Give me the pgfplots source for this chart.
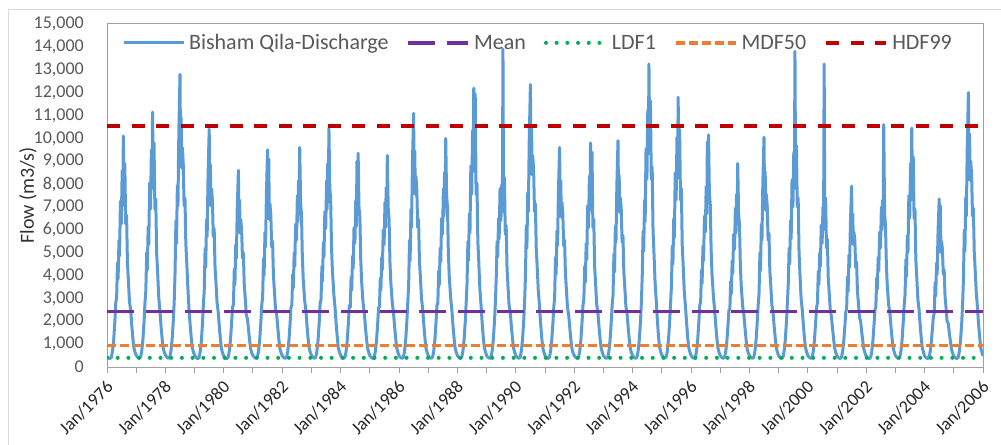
\documentclass[border=0pt]{standalone}
\usepackage{pgfplots}
\pgfplotsset{compat=1.18}
\usepackage{fontspec}
\setmainfont{Carlito}
\definecolor{cBlue}{HTML}{5B9BD5}
\definecolor{cPurple}{HTML}{7030A0}
\definecolor{cGreen}{HTML}{00B050}
\definecolor{cOrange}{HTML}{ED7D31}
\definecolor{cRed}{HTML}{C00000}
\definecolor{cTick}{HTML}{595959}
\definecolor{cAxis}{HTML}{A0A0A0}
\definecolor{cFrame}{HTML}{D9D9D9}
\begin{document}
\begin{tikzpicture}
\useasboundingbox (0bp,0bp) rectangle (1001bp,445bp);
\fill[white] (0bp,0bp) rectangle (1001bp,445bp);
\draw[cFrame, line width=1bp] (8bp,-20bp) -- (8bp,435bp) -- (1020bp,435bp);
\begin{axis}[
  at={(107bp,78bp)}, anchor=south west,
  width=876bp, height=343bp, scale only axis,
  xmin=1976, xmax=2006, ymin=0, ymax=15000,
  axis line style={cAxis, line width=1bp},
  xtick={1976,1978,...,2006},
  minor xtick={1977,1979,...,2005},
  xticklabels={Jan/1976,Jan/1978,Jan/1980,Jan/1982,Jan/1984,Jan/1986,Jan/1988,Jan/1990,Jan/1992,Jan/1994,Jan/1996,Jan/1998,Jan/2000,Jan/2002,Jan/2004,Jan/2006},
  x tick style={cAxis, line width=1bp},
  minor x tick style={cAxis, line width=1bp},
  tick align=outside, major tick length=6bp, minor tick length=6bp,
  xtick pos=bottom, ytick pos=left,
  xticklabel style={font=\fontsize{18bp}{20bp}\selectfont, text=black!85, inner sep=0pt, xshift=3bp, yshift=-11bp, rotate=45, anchor=east},
  ytick={0,1000,...,15000},
  y tick style={draw=none},
  yticklabel style={font=\fontsize{18bp}{20bp}\selectfont, text=cTick, inner sep=0pt, anchor=east, xshift=-17bp},
  scaled y ticks=false,
  /pgf/number format/.cd, 1000 sep={,}, assume math mode=true, /pgfplots/.cd,
  ylabel={Flow (m3/s)},
  ylabel style={at={(axis description cs:-0.0902,0.5)}, anchor=center, font=\fontsize{20bp}{22bp}\selectfont, text=black!80},
  legend columns=5,
  legend style={at={(axis description cs:0.017,0.945)}, anchor=west, draw=none, fill=none, inner sep=0pt,
    font=\fontsize{22bp}{24bp}\selectfont, text=cTick, nodes={inner sep=0pt},
    /tikz/every odd column/.append style={column sep=4bp},
    /tikz/every even column/.append style={column sep=18bp}},
  legend image code/.code={\draw[#1] (0bp,0bp) -- (60bp,0bp);},
]
\addplot[cBlue, line width=3bp, line join=round] coordinates {
(1976.00,450)(1976.05,400)(1976.10,370)(1976.15,420)(1976.19,700)(1976.23,1200)(1976.27,2000)(1976.30,2800)(1976.33,3050)(1976.36,4550)(1976.38,3850)(1976.41,5550)(1976.43,4850)(1976.46,7250)(1976.49,6250)(1976.52,8600)(1976.54,7050)(1976.56,10100)(1976.58,7900)(1976.61,8900)(1976.64,6250)(1976.67,6650)(1976.70,4550)(1976.73,3850)(1976.77,2850)(1976.81,2500)(1976.85,1800)(1976.89,1200)(1976.92,850)(1976.96,650)
(1977.00,520)(1977.05,430)(1977.10,390)(1977.15,430)(1977.19,700)(1977.23,1200)(1977.27,2000)(1977.30,2800)(1977.33,3350)(1977.36,5000)(1977.38,4250)(1977.41,6150)(1977.43,5350)(1977.46,8050)(1977.49,6900)(1977.52,9500)(1977.54,7800)(1977.56,11150)(1977.58,8700)(1977.61,9800)(1977.64,6900)(1977.67,7350)(1977.70,5000)(1977.73,4250)(1977.77,3100)(1977.81,2500)(1977.85,1800)(1977.89,1200)(1977.92,850)(1977.96,650)
(1978.00,520)(1978.05,430)(1978.10,380)(1978.15,420)(1978.19,700)(1978.23,1200)(1978.27,2000)(1978.30,2800)(1978.33,4100)(1978.36,6400)(1978.38,5400)(1978.41,7950)(1978.43,7050)(1978.46,10250)(1978.50,12800)(1978.52,9200)(1978.54,10900)(1978.56,8700)(1978.58,9600)(1978.61,8950)(1978.64,7050)(1978.67,7400)(1978.70,5400)(1978.73,4600)(1978.77,3450)(1978.81,2500)(1978.85,1800)(1978.89,1200)(1978.92,850)(1978.96,650)
(1979.00,520)(1979.05,420)(1979.10,360)(1979.15,400)(1979.19,650)(1979.23,1100)(1979.27,1900)(1979.30,2700)(1979.33,3350)(1979.36,5200)(1979.38,4350)(1979.41,6450)(1979.43,5700)(1979.46,8300)(1979.50,10400)(1979.52,7500)(1979.54,8850)(1979.56,7050)(1979.58,7800)(1979.61,7300)(1979.64,5700)(1979.67,6050)(1979.70,4350)(1979.73,3750)(1979.77,2800)(1979.81,2400)(1979.85,1700)(1979.89,1150)(1979.92,800)(1979.96,600)
(1980.00,480)(1980.05,400)(1980.10,360)(1980.15,420)(1980.19,700)(1980.23,1200)(1980.27,2000)(1980.30,2600)(1980.33,2750)(1980.36,4300)(1980.38,3600)(1980.41,5350)(1980.43,4750)(1980.46,6900)(1980.50,8600)(1980.52,6200)(1980.54,7300)(1980.56,5850)(1980.58,6450)(1980.61,6000)(1980.64,4750)(1980.67,5000)(1980.70,3600)(1980.73,3100)(1980.77,2300)(1980.81,2100)(1980.85,1600)(1980.89,1100)(1980.92,800)(1980.96,600)
(1981.00,500)(1981.05,420)(1981.10,380)(1981.15,430)(1981.19,700)(1981.23,1200)(1981.27,2000)(1981.30,2700)(1981.33,3050)(1981.36,4750)(1981.38,4000)(1981.41,5900)(1981.43,5250)(1981.46,7600)(1981.50,9500)(1981.52,6850)(1981.54,9100)(1981.56,6450)(1981.58,7150)(1981.61,6650)(1981.64,5250)(1981.67,5500)(1981.70,4000)(1981.73,3400)(1981.77,2550)(1981.81,2300)(1981.85,1700)(1981.89,1150)(1981.92,820)(1981.96,620)
(1982.00,500)(1982.05,420)(1982.10,380)(1982.15,420)(1982.19,680)(1982.23,1150)(1982.27,1900)(1982.30,2600)(1982.33,2700)(1982.36,4050)(1982.38,3450)(1982.41,5000)(1982.43,4400)(1982.46,6250)(1982.49,5550)(1982.52,7500)(1982.54,6350)(1982.56,8150)(1982.58,6900)(1982.60,9600)(1982.63,7200)(1982.66,6700)(1982.69,4800)(1982.72,3850)(1982.77,2900)(1982.81,2500)(1982.85,1800)(1982.89,1200)(1982.92,850)(1982.96,650)
(1983.00,520)(1983.05,430)(1983.10,380)(1983.15,420)(1983.19,700)(1983.23,1200)(1983.27,2000)(1983.30,2800)(1983.33,2950)(1983.36,4400)(1983.38,3750)(1983.41,5450)(1983.43,4800)(1983.46,6800)(1983.49,6050)(1983.52,8150)(1983.54,6900)(1983.56,8900)(1983.58,7500)(1983.60,10450)(1983.63,7850)(1983.66,7300)(1983.69,5200)(1983.72,4200)(1983.77,3150)(1983.81,2600)(1983.85,1850)(1983.89,1250)(1983.92,850)(1983.96,650)
(1984.00,520)(1984.05,430)(1984.10,380)(1984.15,420)(1984.19,700)(1984.23,1200)(1984.27,2000)(1984.30,2700)(1984.33,2600)(1984.36,3950)(1984.38,3350)(1984.41,4850)(1984.43,4300)(1984.46,6100)(1984.49,5400)(1984.52,7300)(1984.54,6150)(1984.56,9000)(1984.58,6750)(1984.60,9350)(1984.63,7000)(1984.66,6550)(1984.69,4700)(1984.72,3750)(1984.77,2800)(1984.81,2400)(1984.85,1750)(1984.89,1200)(1984.92,850)(1984.96,650)
(1985.00,500)(1985.05,420)(1985.10,370)(1985.15,410)(1985.19,680)(1985.23,1150)(1985.27,1900)(1985.30,2600)(1985.33,2600)(1985.36,3900)(1985.38,3350)(1985.41,4800)(1985.43,4250)(1985.46,6000)(1985.49,5350)(1985.52,7200)(1985.54,6100)(1985.56,7850)(1985.58,6650)(1985.60,9250)(1985.63,6950)(1985.66,6500)(1985.69,4600)(1985.72,3700)(1985.77,2800)(1985.81,2400)(1985.85,1750)(1985.89,1200)(1985.92,850)(1985.96,650)
(1986.00,500)(1986.05,420)(1986.10,380)(1986.15,420)(1986.19,700)(1986.23,1200)(1986.27,2000)(1986.30,2800)(1986.33,3550)(1986.36,5550)(1986.38,4650)(1986.41,6900)(1986.43,6100)(1986.46,8900)(1986.50,11100)(1986.52,8000)(1986.54,9450)(1986.56,7550)(1986.58,8350)(1986.61,7750)(1986.64,6100)(1986.67,6450)(1986.70,4650)(1986.73,4000)(1986.77,3000)(1986.81,2550)(1986.85,1850)(1986.89,1250)(1986.92,850)(1986.96,650)
(1987.00,500)(1987.05,420)(1987.10,380)(1987.15,420)(1987.19,700)(1987.23,1200)(1987.27,2000)(1987.30,2700)(1987.33,2800)(1987.36,4200)(1987.38,3600)(1987.41,5200)(1987.43,4600)(1987.46,6500)(1987.49,5800)(1987.52,7800)(1987.54,6600)(1987.56,8500)(1987.58,7200)(1987.60,10000)(1987.63,7500)(1987.66,7000)(1987.69,5000)(1987.72,4000)(1987.77,3000)(1987.81,2500)(1987.85,1800)(1987.89,1200)(1987.92,850)(1987.96,650)
(1988.00,500)(1988.05,420)(1988.10,380)(1988.15,420)(1988.19,700)(1988.23,1200)(1988.27,2000)(1988.30,2800)(1988.33,3650)(1988.36,5500)(1988.38,4650)(1988.41,6700)(1988.43,5850)(1988.46,8800)(1988.49,7550)(1988.52,10350)(1988.54,8550)(1988.56,12200)(1988.58,9500)(1988.61,11950)(1988.64,7550)(1988.67,8050)(1988.70,5500)(1988.73,4650)(1988.77,3400)(1988.81,2700)(1988.85,1900)(1988.89,1250)(1988.92,870)(1988.96,660)
(1989.00,500)(1989.05,420)(1989.10,380)(1989.15,420)(1989.19,700)(1989.23,1200)(1989.27,2000)(1989.30,2800)(1989.33,3900)(1989.36,5500)(1989.38,4800)(1989.41,6500)(1989.43,5600)(1989.46,7800)(1989.49,6400)(1989.52,8000)(1989.54,6800)(1989.56,13900)(1989.58,7200)(1989.61,8300)(1989.64,5800)(1989.67,6200)(1989.70,4300)(1989.73,3600)(1989.77,2700)(1989.81,2400)(1989.85,1750)(1989.89,1200)(1989.92,850)(1989.96,650)
(1990.00,500)(1990.05,420)(1990.10,380)(1990.15,420)(1990.19,700)(1990.23,1200)(1990.27,2000)(1990.30,2800)(1990.33,3950)(1990.36,6200)(1990.38,5200)(1990.41,7650)(1990.43,6800)(1990.46,9900)(1990.50,12350)(1990.52,8900)(1990.54,10500)(1990.56,8400)(1990.58,9250)(1990.61,8650)(1990.64,6800)(1990.67,7150)(1990.70,5200)(1990.73,4450)(1990.77,3350)(1990.81,2700)(1990.85,1900)(1990.89,1250)(1990.92,870)(1990.96,660)
(1991.00,500)(1991.05,420)(1991.10,370)(1991.15,410)(1991.19,680)(1991.23,1150)(1991.27,1900)(1991.30,2600)(1991.33,3050)(1991.36,4800)(1991.38,4050)(1991.41,5950)(1991.43,5300)(1991.46,7700)(1991.50,9600)(1991.52,6900)(1991.54,8150)(1991.56,6550)(1991.58,7200)(1991.61,6700)(1991.64,5300)(1991.67,5550)(1991.70,4050)(1991.73,3450)(1991.77,2600)(1991.81,2300)(1991.85,1700)(1991.89,1150)(1991.92,820)(1991.96,620)
(1992.00,500)(1992.05,420)(1992.10,380)(1992.15,420)(1992.19,700)(1992.23,1200)(1992.27,2000)(1992.30,2700)(1992.33,2950)(1992.36,4400)(1992.38,3700)(1992.41,5400)(1992.43,4700)(1992.46,7050)(1992.49,6100)(1992.52,8350)(1992.54,6850)(1992.56,9800)(1992.58,7650)(1992.61,9400)(1992.64,6100)(1992.67,6450)(1992.70,4400)(1992.73,3700)(1992.77,2750)(1992.81,2400)(1992.85,1750)(1992.89,1200)(1992.92,850)(1992.96,650)
(1993.00,500)(1993.05,420)(1993.10,380)(1993.15,420)(1993.19,700)(1993.23,1200)(1993.27,2000)(1993.30,2700)(1993.33,3150)(1993.36,4950)(1993.38,4150)(1993.41,6150)(1993.43,5450)(1993.46,7900)(1993.50,9900)(1993.52,7150)(1993.54,8400)(1993.56,6750)(1993.58,7400)(1993.61,6950)(1993.64,5450)(1993.67,5750)(1993.70,4150)(1993.73,3550)(1993.77,2650)(1993.81,2350)(1993.85,1700)(1993.89,1150)(1993.92,820)(1993.96,620)
(1994.00,500)(1994.05,420)(1994.10,380)(1994.15,420)(1994.19,700)(1994.23,1200)(1994.27,2000)(1994.30,2800)(1994.33,4000)(1994.36,5950)(1994.38,5050)(1994.41,7300)(1994.43,6350)(1994.46,9550)(1994.49,8200)(1994.52,11250)(1994.54,9300)(1994.56,13250)(1994.58,10350)(1994.61,11650)(1994.64,8200)(1994.67,8750)(1994.70,5950)(1994.73,5050)(1994.77,3700)(1994.81,2900)(1994.85,2000)(1994.89,1300)(1994.92,900)(1994.96,680)
(1995.00,520)(1995.05,430)(1995.10,390)(1995.15,430)(1995.19,700)(1995.23,1200)(1995.27,2000)(1995.30,2800)(1995.33,3550)(1995.36,5300)(1995.38,4500)(1995.41,6500)(1995.43,5650)(1995.46,8500)(1995.49,7300)(1995.52,10050)(1995.54,8250)(1995.56,11800)(1995.58,9200)(1995.61,10400)(1995.64,7300)(1995.67,7800)(1995.70,5300)(1995.73,4500)(1995.77,3300)(1995.81,2650)(1995.85,1900)(1995.89,1250)(1995.92,870)(1995.96,660)
(1996.00,510)(1996.05,420)(1996.10,380)(1996.15,420)(1996.19,700)(1996.23,1200)(1996.27,2000)(1996.30,2700)(1996.33,2850)(1996.36,4250)(1996.38,3650)(1996.41,5300)(1996.43,4650)(1996.46,6600)(1996.49,5900)(1996.52,7900)(1996.54,6700)(1996.56,9850)(1996.58,7300)(1996.60,10150)(1996.63,7600)(1996.66,7100)(1996.69,5100)(1996.72,4050)(1996.77,3050)(1996.81,2500)(1996.85,1800)(1996.89,1200)(1996.92,850)(1996.96,650)
(1997.00,500)(1997.05,420)(1997.10,380)(1997.15,420)(1997.19,680)(1997.23,1150)(1997.27,1900)(1997.30,2500)(1997.33,2500)(1997.36,3750)(1997.38,3200)(1997.41,4650)(1997.43,4100)(1997.46,5800)(1997.49,5150)(1997.52,6950)(1997.54,5850)(1997.56,7550)(1997.58,6400)(1997.60,8900)(1997.63,6700)(1997.66,6250)(1997.69,4450)(1997.72,3550)(1997.77,2650)(1997.81,2300)(1997.85,1700)(1997.89,1150)(1997.92,820)(1997.96,620)
(1998.00,500)(1998.05,420)(1998.10,380)(1998.15,420)(1998.19,700)(1998.23,1200)(1998.27,2000)(1998.30,2700)(1998.33,3200)(1998.36,5000)(1998.38,4200)(1998.41,6250)(1998.43,5550)(1998.46,8050)(1998.50,10050)(1998.52,7250)(1998.54,8550)(1998.56,6850)(1998.58,7550)(1998.61,7050)(1998.64,5550)(1998.67,5850)(1998.70,4200)(1998.73,3600)(1998.77,2700)(1998.81,2400)(1998.85,1750)(1998.89,1200)(1998.92,850)(1998.96,650)
(1999.00,500)(1999.05,420)(1999.10,380)(1999.15,420)(1999.19,700)(1999.23,1200)(1999.27,2000)(1999.30,2800)(1999.33,3600)(1999.36,5200)(1999.38,4500)(1999.41,6400)(1999.43,5600)(1999.46,8200)(1999.49,7000)(1999.52,9400)(1999.54,7800)(1999.56,13800)(1999.58,8600)(1999.61,9700)(1999.64,7000)(1999.67,7400)(1999.70,5000)(1999.73,4100)(1999.77,3000)(1999.81,2500)(1999.85,1800)(1999.89,1200)(1999.92,850)(1999.96,650)
(2000.00,500)(2000.05,420)(2000.10,380)(2000.15,420)(2000.19,700)(2000.23,1200)(2000.27,2000)(2000.30,2600)(2000.33,2800)(2000.36,4200)(2000.38,3600)(2000.41,5000)(2000.43,4400)(2000.46,6200)(2000.49,5400)(2000.52,7000)(2000.54,6000)(2000.56,13250)(2000.58,6800)(2000.61,7400)(2000.64,5200)(2000.67,5600)(2000.70,3900)(2000.73,3300)(2000.77,2500)(2000.81,2200)(2000.85,1650)(2000.89,1150)(2000.92,820)(2000.96,620)
(2001.00,480)(2001.05,410)(2001.10,370)(2001.15,410)(2001.19,650)(2001.23,1100)(2001.27,1800)(2001.30,2400)(2001.33,2550)(2001.36,3950)(2001.38,3300)(2001.41,4900)(2001.43,4350)(2001.46,6300)(2001.50,7900)(2001.52,5700)(2001.54,6700)(2001.56,5350)(2001.58,5900)(2001.61,5550)(2001.64,4350)(2001.67,4600)(2001.70,3300)(2001.73,2850)(2001.77,2150)(2001.81,2000)(2001.85,1500)(2001.89,1050)(2001.92,780)(2001.96,600)
(2002.00,480)(2002.05,410)(2002.10,370)(2002.15,410)(2002.19,680)(2002.23,1150)(2002.27,1900)(2002.30,2500)(2002.33,2600)(2002.36,3900)(2002.38,3400)(2002.41,4800)(2002.43,4200)(2002.46,5900)(2002.49,5200)(2002.52,7000)(2002.54,6000)(2002.56,7300)(2002.58,6400)(2002.60,10600)(2002.63,6700)(2002.66,6200)(2002.69,4500)(2002.72,3600)(2002.77,2700)(2002.81,2400)(2002.85,1750)(2002.89,1200)(2002.92,850)(2002.96,650)
(2003.00,500)(2003.05,420)(2003.10,380)(2003.15,420)(2003.19,700)(2003.23,1200)(2003.27,2000)(2003.30,2700)(2003.33,3150)(2003.36,4700)(2003.38,3950)(2003.41,5750)(2003.43,5000)(2003.46,7500)(2003.49,6500)(2003.52,8900)(2003.54,7300)(2003.56,10450)(2003.58,8150)(2003.61,9200)(2003.64,6500)(2003.67,6900)(2003.70,4700)(2003.73,3950)(2003.77,2950)(2003.81,2500)(2003.85,1800)(2003.89,1200)(2003.92,850)(2003.96,650)
(2004.00,480)(2004.05,410)(2004.10,370)(2004.15,410)(2004.19,650)(2004.23,1100)(2004.27,1700)(2004.30,2200)(2004.33,2350)(2004.36,3700)(2004.38,3100)(2004.41,4550)(2004.43,4050)(2004.46,5900)(2004.50,7350)(2004.52,5300)(2004.54,7050)(2004.56,5000)(2004.58,5500)(2004.61,5150)(2004.64,4050)(2004.67,4250)(2004.70,3100)(2004.73,2650)(2004.77,2000)(2004.81,1900)(2004.85,1450)(2004.89,1050)(2004.92,780)(2004.96,600)
(2005.00,480)(2005.05,410)(2005.10,370)(2005.15,410)(2005.19,680)(2005.23,1150)(2005.27,1900)(2005.30,2700)(2005.33,3850)(2005.36,6000)(2005.38,5050)(2005.41,7450)(2005.43,6600)(2005.46,9600)(2005.50,12000)(2005.52,8650)(2005.54,10200)(2005.56,8150)(2005.58,9000)(2005.61,8400)(2005.64,6600)(2005.67,6950)(2005.70,5050)(2005.73,4300)(2005.77,3250)(2005.81,2600)(2005.85,1850)(2005.89,1250)(2005.92,850)(2005.96,650)(2006.00,480)
};
\addlegendentry{Bisham Qila-Discharge}
\addplot[cPurple, line width=3.5bp, dash pattern=on 27bp off 12bp] coordinates {(1976,2420) (2006,2420)};
\addlegendentry{Mean}
\addplot[cGreen, line width=4bp, line cap=round, dash pattern=on 0bp off 10.7bp] coordinates {(1976,400) (2006,400)};
\addlegendentry{LDF1}
\addplot[cOrange, line width=3.5bp, dash pattern=on 9bp off 4bp] coordinates {(1976,930) (2006,930)};
\addlegendentry{MDF50}
\addplot[cRed, line width=4bp, dash pattern=on 13bp off 11.5bp] coordinates {(1976,10550) (2006,10550)};
\addlegendentry{HDF99}
\end{axis}
\end{tikzpicture}
\end{document}
